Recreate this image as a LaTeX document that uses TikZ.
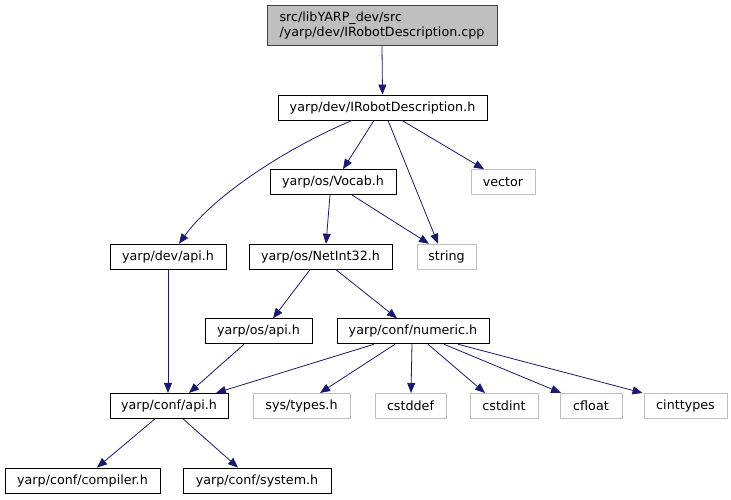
\documentclass[tikz,border=0pt]{standalone}
\usepackage{fontspec}
\setmainfont{DejaVu Sans}
\usetikzlibrary{arrows.meta}
\tikzset{>={Triangle[length=10pt,width=8pt]}}
\definecolor{edgeblue}{HTML}{191970}
\definecolor{sysgray}{HTML}{BFBFBF}
\tikzset{
  filebox/.style={draw=black, line width=0.9pt, fill=white, minimum height=25pt,
    inner sep=0pt, font=\fontsize{12.7}{15}\selectfont},
  sysbox/.style={filebox, draw=sysgray},
  mainbox/.style={filebox, fill=sysgray, draw=black!75, minimum height=40pt, align=left},
  dep/.style={->, draw=edgeblue, line width=0.8pt},
}

\begin{document}
\begin{tikzpicture}[x=1pt, y=-1pt]

  \newcommand\Y{74.6};

  \fill[white] (0,0) rectangle (731,500);
  \useasboundingbox (0,0) rectangle (731,500);

  % files
  \node[mainbox, minimum width=230pt] (cpp) at (382, 25)
    {src/libYARP\_dev/src\\/yarp/dev/IRobotDescription.cpp};
  \node[filebox, minimum width=209pt] (irobot) at (382.5, 107.5+0*\Y) {yarp/dev/IRobotDescription.h};
  \node[filebox, minimum width=126pt] (vocab) at (333, 107.5+1*\Y) {yarp/os/Vocab.h};
  \node[sysbox, minimum width=64pt] (vector) at (503, 107.5+1*\Y) {vector};
  \node[filebox, minimum width=116pt] (devapi) at (168, 107.5+2*\Y) {yarp/dev/api.h};
  \node[filebox, minimum width=143pt] (netint) at (320.5, 107.5+2*\Y) {yarp/os/NetInt32.h};
  \node[sysbox, minimum width=59pt] (string) at (446.5, 107.5+2*\Y) {string};
  \node[filebox, minimum width=107pt] (osapi) at (258.5, 107.5+3*\Y) {yarp/os/api.h};
  \node[filebox, minimum width=152pt] (numeric) at (413, 107.5+3*\Y) {yarp/conf/numeric.h};
  \node[filebox, minimum width=118pt] (confapi) at (169, 107.5+4*\Y) {yarp/conf/api.h};
  \node[sysbox, minimum width=97pt] (systypes) at (301.5, 107.5+4*\Y) {sys/types.h};
  \node[sysbox, minimum width=71pt] (cstddef) at (410.5, 107.5+4*\Y) {cstddef};
  \node[sysbox, minimum width=68pt] (cstdint) at (504, 107.5+4*\Y) {cstdint};
  \node[sysbox, minimum width=62pt] (cfloat) at (591, 107.5+4*\Y) {cfloat};
  \node[sysbox, minimum width=83pt] (cinttypes) at (685.5, 107.5+4*\Y) {cinttypes};
  \node[filebox, minimum width=155pt] (compiler) at (82.5, 107.5+5*\Y) {yarp/conf/compiler.h};
  \node[filebox, minimum width=148pt] (system) at (257, 107.5+5*\Y) {yarp/conf/system.h};

  % includes
  \draw[dep] (cpp.south) -- (irobot.north); %% cpp->irobot
  \draw[dep] ([xshift=-30.5pt]irobot.south) .. controls +(-62,26) and +(36,-50) ..
    ([xshift=11pt]devapi.north); %% irobot->devapi
  \draw[dep] ([xshift=-8.5pt]irobot.south) -- ([xshift=10pt]vocab.north); %% irobot->vocab
  \draw[dep] ([xshift=5.5pt]irobot.south) -- ([xshift=-8.5pt]string.north); %% irobot->string
  \draw[dep] ([xshift=19.5pt]irobot.south) -- ([xshift=-19pt]vector.north); %% irobot->vector

  \draw[dep] ([xshift=-3pt]vocab.south) -- ([xshift=5.5pt]netint.north); %% vocab->netint
  \draw[dep] ([xshift=19pt]vocab.south) -- ([xshift=-17.5pt]string.north); %% vocab->string

  \draw[dep] (devapi.south) -- ([xshift=-1pt]confapi.north); %% devapi->confapi

  \draw[dep] ([xshift=-10.5pt]netint.south) -- ([xshift=14.5pt]osapi.north); %% netint->osapi
  \draw[dep] ([xshift=15.5pt]netint.south) -- ([xshift=-16pt]numeric.north); %% netint->numeric

  \draw[dep] ([xshift=-14.5pt]osapi.south) -- ([xshift=20pt]confapi.north); %% osapi->confapi

  \draw[dep] ([xshift=-39pt]numeric.south) -- ([xshift=47pt]confapi.north); %% numeric->confapi
  \draw[dep] ([xshift=-18pt]numeric.south) -- ([xshift=18.5pt]systypes.north); %% numeric->sys/types
  \draw[dep] ([xshift=-1pt]numeric.south) -- ([xshift=0.5pt]cstddef.north); %% numeric->cstddef
  \draw[dep] ([xshift=15pt]numeric.south) -- ([xshift=-19pt]cstdint.north); %% numeric->cstdint
  \draw[dep] ([xshift=31pt]numeric.south) -- ([xshift=-30pt]cfloat.north); %% numeric->cfloat
  \draw[dep] ([xshift=45pt]numeric.south) -- ([xshift=-43pt]cinttypes.north); %% numeric->cinttypes

  \draw[dep] ([xshift=-14pt]confapi.south) -- ([xshift=14.5pt]compiler.north); %% confapi->compiler
  \draw[dep] ([xshift=14pt]confapi.south) -- ([xshift=-19pt]system.north); %% confapi->system

\end{tikzpicture}
\end{document}
